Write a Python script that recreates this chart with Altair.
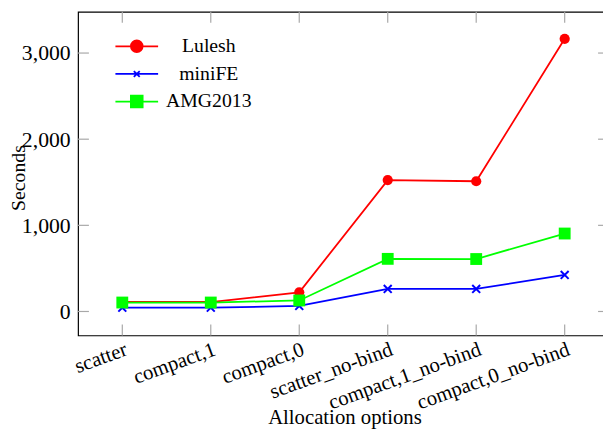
import altair as alt
import pandas as pd

categories = ["scatter", "compact,1", "compact,0", "scatter_no-bind",
              "compact,1_no-bind", "compact,0_no-bind"]
series_names = ["Lulesh", "miniFE", "AMG2013"]
lulesh = [110, 110, 222, 1525, 1512, 3165]
minife = [44, 44, 64, 262, 262, 424]
amg2013 = [104, 104, 128, 611, 609, 905]
y_ticks = [0, 1000, 2000, 3000]
colors = ["#ff0000", "#0000ff", "#00ff00"]

rows = []
for name, vals in zip(series_names, [lulesh, minife, amg2013]):
    for i, (c, v) in enumerate(zip(categories, vals)):
        rows.append({"series": name, "category": c, "value": v, "idx": i})
df = pd.DataFrame(rows)
cat_df = pd.DataFrame({"category": categories})
ytick_df = pd.DataFrame({"value": y_ticks})

W, H = 538, 328
FONT = "Liberation Serif"
TICK = 11
TICK_COLOR = "#a8a8a8"

x_scale = alt.Scale(type="point", domain=categories, padding=0.5)
y_scale = alt.Scale(domain=[-278, 3479], nice=False, zero=False)

x_axis = alt.Axis(
    labelAngle=340, labelAlign="right", labelBaseline="top", labelPadding=3,
    labelFont=FONT, labelFontSize=21, labelColor="black", labelOverlap=False,
    labelLimit=300, ticks=False, domain=False, grid=False,
    title="Allocation options", titleFont=FONT, titleFontSize=21,
    titleFontWeight="normal", titleColor="black", titleX=270, titleY=89,
    titleAlign="center", titleBaseline="alphabetic",
)
y_axis = alt.Axis(
    values=y_ticks, format=",.0f", labelFont=FONT, labelFontSize=22,
    labelColor="black", labelPadding=8, labelBaseline="middle",
    ticks=False, domain=False, grid=False,
    title="Seconds", titleFont=FONT, titleFontSize=20, titleFontWeight="normal",
    titleColor="black", titleAngle=270, titleX=-54, titleY=168,
    titleAlign="center", titleBaseline="alphabetic",
)

X = alt.X("category:N", scale=x_scale, axis=x_axis)
Y = alt.Y("value:Q", scale=y_scale, axis=y_axis)

legend_paths = [
    "M-4,0H4M1.1,0A1.1,1.1,0,1,1,-1.1,0A1.1,1.1,0,1,1,1.1,0Z",
    "M-4,0H4M-0.55,-0.55L0.55,0.55M-0.55,0.55L0.55,-0.55",
    "M-4,0H4M-1.1,-1.1H1.1V1.1H-1.1Z",
]
leg = alt.Legend(
    orient="none", legendX=49.5, legendY=25, title=None, padding=0,
    labelFont=FONT, labelFontSize=20, labelColor="black", labelAlign="center",
    labelOffset=63, symbolSize=117, symbolStrokeWidth=1.8, rowPadding=8,
    labelLimit=300,
)

lines = alt.Chart(df).mark_line(strokeWidth=1.8).encode(
    x=X, y=Y,
    color=alt.Color("series:N", scale=alt.Scale(domain=series_names, range=colors), legend=leg),
    order=alt.Order("idx:Q"),
)

def pts(name, **kw):
    return alt.Chart(df).transform_filter(alt.datum.series == name).mark_point(opacity=1, **kw).encode(
        x=X, y=Y,
    )

p_lulesh = pts("Lulesh", shape="circle", size=107, filled=True, color=colors[0])
p_minife = pts("miniFE", shape="M-1,-1L1,1M-1,1L1,-1", size=64, filled=False,
               color=colors[1], strokeWidth=2)
p_amg = pts("AMG2013", shape="square", size=144, filled=True, color=colors[2])

# inward ticks on all four sides
yt_left = alt.Chart(ytick_df).mark_rule(color=TICK_COLOR, strokeWidth=1.2).encode(
    y=Y, x=alt.value(0), x2=alt.value(TICK))
yt_right = alt.Chart(ytick_df).mark_rule(color=TICK_COLOR, strokeWidth=1.2).encode(
    y=Y, x=alt.value(W - TICK), x2=alt.value(W))
xt_bottom = alt.Chart(cat_df).mark_rule(color=TICK_COLOR, strokeWidth=1.2).encode(
    x=X, y=alt.value(H - TICK), y2=alt.value(H))
xt_top = alt.Chart(cat_df).mark_rule(color=TICK_COLOR, strokeWidth=1.2).encode(
    x=X, y=alt.value(0), y2=alt.value(TICK))

legend_layer = alt.Chart(df).mark_point(opacity=1, strokeWidth=1.8, clip=True).encode(
    x=alt.value(-200), y=alt.value(-200),
    fill=alt.Fill("series:N", scale=alt.Scale(domain=series_names, range=colors), legend=leg),
    stroke=alt.Stroke("series:N", scale=alt.Scale(domain=series_names, range=colors), legend=leg),
    shape=alt.Shape("series:N", scale=alt.Scale(domain=series_names, range=legend_paths), legend=leg),
)

chart = alt.layer(
    lines, yt_left, yt_right, xt_bottom, xt_top, p_lulesh, p_minife, p_amg, legend_layer
).properties(
    width=W, height=H,
    autosize=alt.AutoSizeParams(type="none"),
    padding={"left": 71, "top": 1, "right": -6, "bottom": 93},
    background="white",
).configure_view(stroke="black", strokeWidth=1.2)

chart.save("out.html", embed_options={"renderer": "svg", "actions": False})
